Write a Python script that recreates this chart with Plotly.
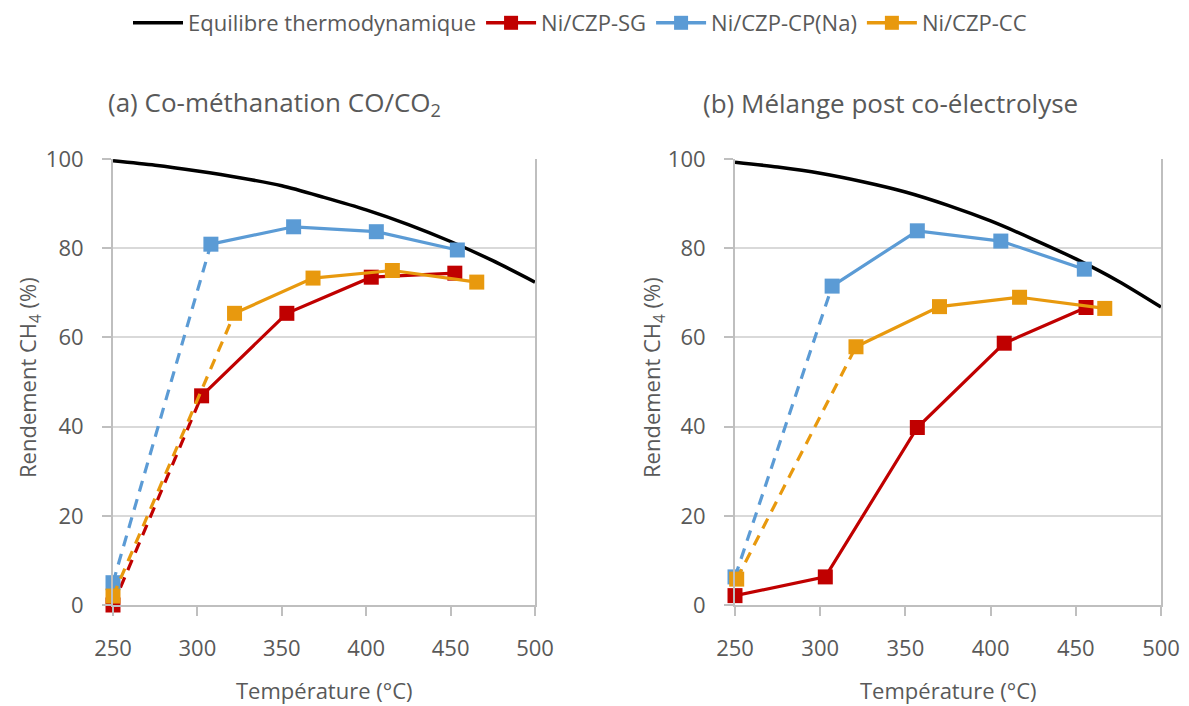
import plotly.graph_objects as go

# ---------------- data ----------------
temp_eq = [250, 275, 300, 325, 350, 375, 400, 425, 450, 475, 500]
eq_a = [99.6, 98.6, 97.3, 95.8, 94.0, 91.4, 88.6, 85.3, 81.5, 77.2, 72.4]
eq_b = [99.3, 98.2, 96.8, 94.9, 92.6, 89.6, 86.1, 82.0, 77.6, 72.6, 66.8]

sg_a_T = [250, 302.5, 353, 403, 452.5]
sg_a = [0.0, 46.9, 65.4, 73.5, 74.4]
cp_a_T = [250, 308, 357, 406, 454]
cp_a = [5.0, 80.9, 84.8, 83.7, 79.6]
cc_a_T = [250, 322, 368.5, 415.5, 465.5]
cc_a = [2.0, 65.4, 73.3, 75.0, 72.4]

sg_b_T = [250, 303, 357, 408, 456]
sg_b = [2.1, 6.3, 39.8, 58.7, 66.7]
cp_b_T = [250, 307, 357, 406, 455]
cp_b = [6.3, 71.5, 83.9, 81.6, 75.3]
cc_b_T = [251, 321, 370, 417, 467]
cc_b = [5.8, 57.9, 66.9, 69.0, 66.5]

names = ["Equilibre thermodynamique", "Ni/CZP-SG", "Ni/CZP-CP(Na)", "Ni/CZP-CC"]
titles = ["(a) Co-méthanation CO/CO<sub>2</sub>", "(b) Mélange post co-électrolyse"]
x_ticks = [250, 300, 350, 400, 450, 500]
y_ticks = [0, 20, 40, 60, 80, 100]

# ---------------- style ----------------
C_EQ = "#000000"
C_SG = "#C00000"
C_CP = "#5B9BD5"
C_CC = "#E8990E"
TXT = "#595959"
FONT = "Open Sans"
FS = 22

# page has an 8px body margin: figure is drawn from (8, 8)
OFF = 8
W, H = 1181, 698


def px(x):
    return (x - OFF) / W


def py(y):
    return 1 - (y - OFF) / H


fig = go.Figure()


def panel(xa, ya, eq, data, show_legend):
    fig.add_trace(go.Scatter(x=temp_eq, y=eq, mode="lines", name=names[0],
                             line=dict(color=C_EQ, width=3.5, shape="spline", smoothing=0.8),
                             xaxis=xa, yaxis=ya,
                             showlegend=show_legend, legendgroup="eq"))
    for (T, v, color, name, dashed) in data:
        if dashed:
            fig.add_trace(go.Scatter(x=T[:2], y=v[:2], mode="lines",
                                     line=dict(color=color, width=3.2, dash="11px,8px"),
                                     xaxis=xa, yaxis=ya, showlegend=False,
                                     hoverinfo="skip", cliponaxis=False))
            sx, sy = T[1:], v[1:]
        else:
            sx, sy = T, v
        fig.add_trace(go.Scatter(x=sx, y=sy, mode="lines", line=dict(color=color, width=3.2),
                                 xaxis=xa, yaxis=ya, showlegend=False, hoverinfo="skip",
                                 cliponaxis=False))
        fig.add_trace(go.Scatter(x=T, y=v, mode="markers", name=name,
                                 marker=dict(symbol="square", size=15, color=color),
                                 xaxis=xa, yaxis=ya, showlegend=False,
                                 legendgroup=name, cliponaxis=False))
        if show_legend:
            fig.add_trace(go.Scatter(x=[None], y=[None], mode="lines+markers", name=name,
                                     line=dict(color=color, width=3.5),
                                     marker=dict(symbol="square", size=14, color=color),
                                     xaxis=xa, yaxis=ya, showlegend=True, legendgroup=name))


panel("x", "y", eq_a, [
    (sg_a_T, sg_a, C_SG, names[1], True),
    (cp_a_T, cp_a, C_CP, names[2], True),
    (cc_a_T, cc_a, C_CC, names[3], True),
], True)

panel("x2", "y2", eq_b, [
    (sg_b_T, sg_b, C_SG, names[1], False),
    (cp_b_T, cp_b, C_CP, names[2], True),
    (cc_b_T, cc_b, C_CC, names[3], True),
], False)

ax_common_x = dict(range=[250, 500], tickvals=x_ticks, showgrid=False, showline=True,
                   linecolor="#BFBFBF", linewidth=2, ticks="outside", ticklen=9,
                   tickcolor="#BFBFBF", tickwidth=2, zeroline=False,
                   tickfont=dict(size=FS, color=TXT, family=FONT), ticklabelstandoff=14,
                   automargin=False)
ax_common_y = dict(range=[0, 100], tickvals=y_ticks, showgrid=True, gridcolor="#D9D9D9",
                   gridwidth=2, showline=True, linecolor="#BFBFBF", linewidth=2,
                   mirror=True, ticks="outside", ticklen=9, tickcolor="#BFBFBF",
                   tickwidth=2, zeroline=False,
                   tickfont=dict(size=FS, color=TXT, family=FONT), ticklabelstandoff=14,
                   automargin=False)

yd = [py(605), py(159)]
fig.update_layout(
    width=W, height=H,
    margin=dict(l=0, r=0, t=0, b=0, autoexpand=False),
    paper_bgcolor="white", plot_bgcolor="white",
    font=dict(family=FONT, color=TXT, size=FS),
    xaxis=dict(domain=[px(113), px(535)], anchor="y", **ax_common_x),
    yaxis=dict(domain=yd, anchor="x", **ax_common_y),
    xaxis2=dict(domain=[px(735), px(1161)], anchor="y2", **ax_common_x),
    yaxis2=dict(domain=yd, anchor="x2", **ax_common_y),
    legend=dict(orientation="h", x=px(580), xanchor="center", y=py(2), yanchor="top",
                font=dict(size=FS, color=TXT, family=FONT), itemwidth=50,
                bgcolor="rgba(0,0,0,0)", traceorder="normal"),
    showlegend=True,
)

annotations = [
    dict(text=titles[0], x=px(106), y=py(103), xanchor="left", yanchor="middle",
         font=dict(size=26, color=TXT, family=FONT)),
    dict(text=titles[1], x=px(701), y=py(103), xanchor="left", yanchor="middle",
         font=dict(size=26, color=TXT, family=FONT)),
    dict(text="Température (°C)", x=px(324), y=py(690), xanchor="center", yanchor="middle",
         font=dict(size=FS, color=TXT, family=FONT)),
    dict(text="Température (°C)", x=px(948), y=py(690), xanchor="center", yanchor="middle",
         font=dict(size=FS, color=TXT, family=FONT)),
    dict(text="Rendement CH<sub>4</sub> (%)", x=px(10), y=py(378), textangle=-90,
         xanchor="left", yanchor="middle", font=dict(size=22, color=TXT, family=FONT)),
    dict(text="Rendement CH<sub>4</sub> (%)", x=px(634), y=py(378), textangle=-90,
         xanchor="left", yanchor="middle", font=dict(size=22, color=TXT, family=FONT)),
]
for a in annotations:
    a.update(xref="paper", yref="paper", showarrow=False)
fig.update_layout(annotations=annotations)

fig.write_html("out.html")
